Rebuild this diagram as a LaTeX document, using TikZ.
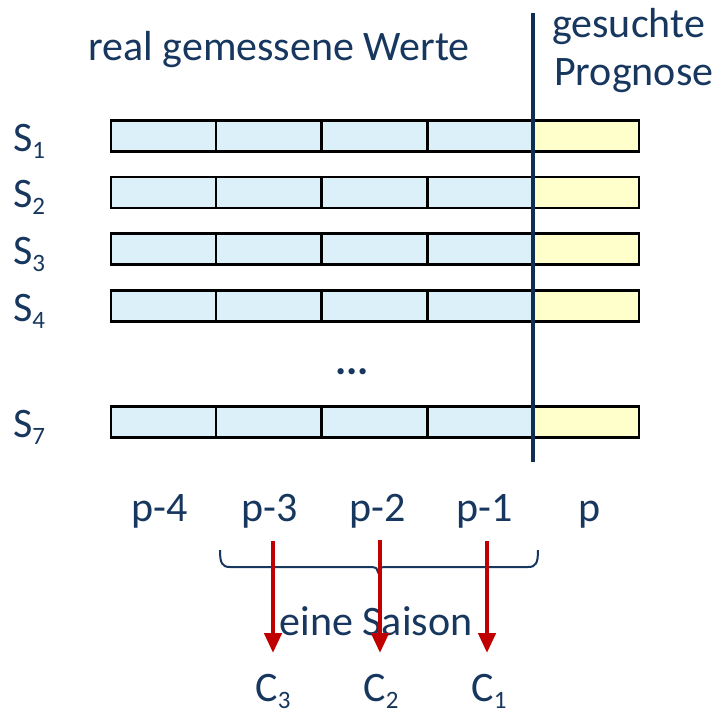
\documentclass[tikz,border=0pt]{standalone}
\usepackage{fontspec}
\setmainfont{Carlito}
\usetikzlibrary{arrows.meta}
\definecolor{navytxt}{RGB}{23,55,94}
\definecolor{navyline}{RGB}{17,45,84}
\definecolor{cellblue}{RGB}{219,240,249}
\definecolor{cellyellow}{RGB}{255,255,204}
\definecolor{arrowred}{RGB}{192,0,0}
\newcommand\sbs[1]{\raisebox{-0.17em}{\fontsize{25}{25}\selectfont #1}}
\begin{document}
\begin{tikzpicture}[x=1pt,y=-1pt,
  cellbase/.style={draw=black,line width=2.5pt,minimum width=106pt,minimum height=31pt,inner sep=0pt,outer sep=0pt},
  bcell/.style={cellbase,fill=cellblue},
  ycell/.style={cellbase,fill=cellyellow},
  lbl/.style={text=navytxt,font=\fontsize{42}{50}\selectfont,inner sep=0pt},
  redarrow/.style={draw=arrowred,line width=4.5pt,-{Triangle[width=17pt,length=20pt]}},
  bracestyle/.style={draw=navytxt,line width=2pt}]
\useasboundingbox (0,0) rectangle (717,713);
% rows
\foreach \r/\y in {1/136,2/192.5,3/249,4/306,7/422}{
  \foreach \k/\x in {1/164,2/269,3/374.5,4/480.5}{
    \node[bcell] (c\r\k) at (\x,\y) {};
  }
  \node[ycell] (c\r5) at (586,\y) {};
  \node[lbl,anchor=base west] (s\r) at (13,{\y+15}) {S\sbs{\r}};
}
\node[lbl] (dots) at (352,372) {\textbf{...}};
% headings
\node[lbl,anchor=base] (real) at (279,60) {real gemessene Werte};
\node[lbl,anchor=base west] (ges) at (552,37) {gesuchte};
\node[lbl,anchor=base west] (prog) at (554,85) {Prognose};
% vertical separator
\coordinate (vt) at (533,13);
\coordinate (vb) at (533,462);
\draw[navyline,line width=4pt] (vt) -- (vb);
% period labels
\node[lbl,anchor=base] (p4) at (160,521) {p-4};
\node[lbl,anchor=base] (p3) at (270,521) {p-3};
\node[lbl,anchor=base] (p2) at (378,521) {p-2};
\node[lbl,anchor=base] (p1) at (485,521) {p-1};
\node[lbl,anchor=base] (p0) at (590,521) {p};
% brace
\draw[bracestyle] (220,550) .. controls (220,563) and (222,567) .. (230,567) -- (371,567)
  .. controls (376,567) and (378,569) .. (378,572)
  .. controls (378,569) and (380,567) .. (385,567) -- (528,567)
  .. controls (536,567) and (538,563) .. (538,550);
\node[lbl,anchor=base] (saison) at (376,635) {eine Saison};
% arrows
\coordinate (a3s) at (273,541); \coordinate (a3e) at (273,653);
\coordinate (a2s) at (380,540); \coordinate (a2e) at (380,653);
\coordinate (a1s) at (487,541); \coordinate (a1e) at (487,653);
\draw[redarrow] (a3s) -- (a3e);
\draw[redarrow] (a2s) -- (a2e);
\draw[redarrow] (a1s) -- (a1e);
% C labels
\node[lbl,anchor=base] (k3) at (273,701) {C\sbs{3}};
\node[lbl,anchor=base] (k2) at (381,701) {C\sbs{2}};
\node[lbl,anchor=base] (k1) at (489,701) {C\sbs{1}};
\end{tikzpicture}
\end{document}
